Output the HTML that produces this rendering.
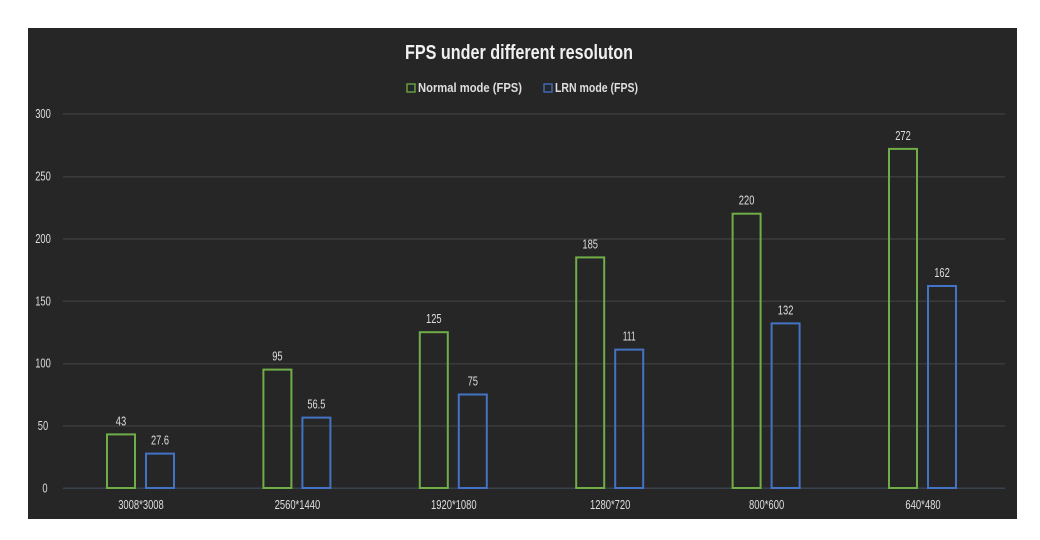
<!DOCTYPE html>
<html><head><meta charset="utf-8"><style>
html,body{margin:0;padding:0;background:#fff;width:1040px;height:540px;overflow:hidden}
svg{display:block}
text{font-family:"Liberation Sans Narrow","Liberation Sans",sans-serif;fill:#dedede}
</style></head><body>
<svg width="1040" height="540" viewBox="0 0 1040 540" xmlns="http://www.w3.org/2000/svg">
<rect x="28" y="28" width="989" height="491" fill="#262626"/>
<text x="405" y="59" font-size="20" font-weight="bold" textLength="228" lengthAdjust="spacingAndGlyphs" style="fill:#f0f0f0">FPS under different resoluton</text>
<rect x="407" y="84" width="8" height="8" fill="none" stroke="#70ad47" stroke-width="1.3"/>
<text x="418" y="92" font-size="13" font-weight="bold" textLength="104" lengthAdjust="spacingAndGlyphs">Normal mode (FPS)</text>
<rect x="544" y="84" width="8" height="8" fill="none" stroke="#4472c4" stroke-width="1.3"/>
<text x="555" y="92" font-size="13" font-weight="bold" textLength="83" lengthAdjust="spacingAndGlyphs">LRN mode (FPS)</text>
<g stroke="#3b3b3b" stroke-width="1.5">
<line x1="63" y1="114" x2="1005" y2="114"/>
<line x1="63" y1="176.7" x2="1005" y2="176.7"/>
<line x1="63" y1="239" x2="1005" y2="239"/>
<line x1="63" y1="301.3" x2="1005" y2="301.3"/>
<line x1="63" y1="363.7" x2="1005" y2="363.7"/>
<line x1="63" y1="426" x2="1005" y2="426"/>
<line x1="63" y1="488.3" x2="1005" y2="488.3" stroke="#3a4250"/>
</g>
<g fill="none" stroke-width="2" stroke="#70ad47">
<rect x="107" y="434.4" width="28" height="53.6"/>
<rect x="263.4" y="369.6" width="28" height="118.4"/>
<rect x="419.8" y="332.2" width="28" height="155.8"/>
<rect x="576.2" y="257.4" width="28" height="230.6"/>
<rect x="732.6" y="213.7" width="28" height="274.3"/>
<rect x="889" y="148.9" width="28" height="339.1"/>
</g>
<g fill="none" stroke-width="2" stroke="#4472c4">
<rect x="146" y="453.6" width="28" height="34.4"/>
<rect x="302.4" y="417.6" width="28" height="70.4"/>
<rect x="458.8" y="394.5" width="28" height="93.5"/>
<rect x="615.2" y="349.6" width="28" height="138.4"/>
<rect x="771.6" y="323.4" width="28" height="164.6"/>
<rect x="928" y="286" width="28" height="202"/>
</g>
<g font-size="12.5" text-anchor="middle">
<text x="121" y="425.4" textLength="10.4" lengthAdjust="spacingAndGlyphs">43</text>
<text x="277.4" y="360.6" textLength="10.4" lengthAdjust="spacingAndGlyphs">95</text>
<text x="433.8" y="323.2" textLength="15.6" lengthAdjust="spacingAndGlyphs">125</text>
<text x="590.2" y="248.4" textLength="15.6" lengthAdjust="spacingAndGlyphs">185</text>
<text x="746.6" y="204.7" textLength="15.6" lengthAdjust="spacingAndGlyphs">220</text>
<text x="903" y="139.9" textLength="15.6" lengthAdjust="spacingAndGlyphs">272</text>
<text x="160" y="444.6" textLength="18" lengthAdjust="spacingAndGlyphs">27.6</text>
<text x="316.4" y="408.6" textLength="18" lengthAdjust="spacingAndGlyphs">56.5</text>
<text x="472.8" y="385.5" textLength="10.4" lengthAdjust="spacingAndGlyphs">75</text>
<text x="629.2" y="340.6" textLength="13" lengthAdjust="spacingAndGlyphs">111</text>
<text x="785.6" y="314.4" textLength="15.6" lengthAdjust="spacingAndGlyphs">132</text>
<text x="942" y="277" textLength="15.6" lengthAdjust="spacingAndGlyphs">162</text>
<text x="141" y="509" textLength="45.6" lengthAdjust="spacingAndGlyphs">3008*3008</text>
<text x="297.4" y="509" textLength="45.6" lengthAdjust="spacingAndGlyphs">2560*1440</text>
<text x="453.8" y="509" textLength="45.6" lengthAdjust="spacingAndGlyphs">1920*1080</text>
<text x="610.2" y="509" textLength="40.4" lengthAdjust="spacingAndGlyphs">1280*720</text>
<text x="766.6" y="509" textLength="35.2" lengthAdjust="spacingAndGlyphs">800*600</text>
<text x="923" y="509" textLength="35.2" lengthAdjust="spacingAndGlyphs">640*480</text>
<text x="43" y="118" textLength="15.6" lengthAdjust="spacingAndGlyphs">300</text>
<text x="43" y="180.7" textLength="15.6" lengthAdjust="spacingAndGlyphs">250</text>
<text x="43" y="243" textLength="15.6" lengthAdjust="spacingAndGlyphs">200</text>
<text x="43" y="305.3" textLength="15.6" lengthAdjust="spacingAndGlyphs">150</text>
<text x="43" y="367.7" textLength="15.6" lengthAdjust="spacingAndGlyphs">100</text>
<text x="43" y="430" textLength="10.4" lengthAdjust="spacingAndGlyphs">50</text>
<text x="45" y="492.3" textLength="5.2" lengthAdjust="spacingAndGlyphs">0</text>
</g>
</svg>
</body></html>
